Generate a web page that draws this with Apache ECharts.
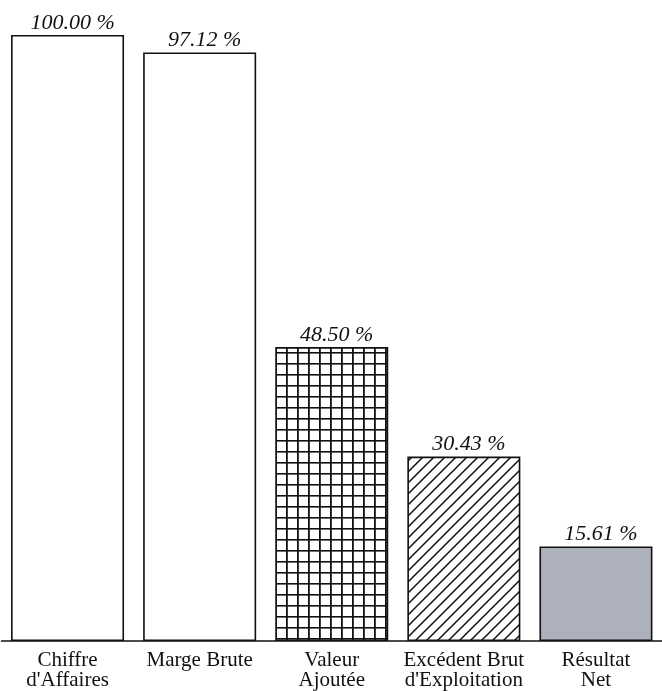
<!DOCTYPE html>
<html>
<head>
<meta charset="utf-8">
<script src="https://cdn.jsdelivr.net/npm/echarts@6/dist/echarts.min.js"></script>
<style>html,body{margin:0;padding:0;background:#fff}#c{width:662px;height:691px}</style>
</head>
<body>
<div id="c"></div>
<script>
var categories = ["Chiffre\nd'Affaires", "Marge Brute", "Valeur\nAjoutée", "Excédent Brut\nd'Exploitation", "Résultat\nNet"];
var values = [100.00, 97.12, 48.50, 30.43, 15.61];
var valueLabels = ["100.00 %", "97.12 %", "48.50 %", "30.43 %", "15.61 %"];

function gridPattern() {
  var c = document.createElement('canvas'); c.width = 11; c.height = 11;
  var g = c.getContext('2d');
  g.fillStyle = '#fff'; g.fillRect(0, 0, 11, 11);
  g.fillStyle = '#111';
  g.fillRect(0, 0, 1.8, 11);
  g.fillRect(0, 0, 11, 1.6);
  return c;
}
function hatchPattern() {
  var s = 11;
  var c = document.createElement('canvas'); c.width = s; c.height = s;
  var g = c.getContext('2d');
  g.fillStyle = '#fff'; g.fillRect(0, 0, s, s);
  g.strokeStyle = '#111'; g.lineWidth = 1.5;
  g.beginPath();
  g.moveTo(-1, s + 1); g.lineTo(s + 1, -1);
  g.moveTo(-1, 1); g.lineTo(1, -1);
  g.moveTo(s - 1, s + 1); g.lineTo(s + 1, s - 1);
  g.stroke();
  return c;
}
var fills = ['#ffffff', '#ffffff', {image: gridPattern(), repeat: 'repeat'}, {image: hatchPattern(), repeat: 'repeat'}, '#adb1bc'];

var chart = echarts.init(document.getElementById('c'));
chart.setOption({
  backgroundColor: '#fff',
  animation: false,
  grid: {left: 1.5, right: -4, top: 35, bottom: 50, containLabel: false},
  xAxis: {
    type: 'category', data: categories,
    axisLine: {lineStyle: {color: '#111', width: 1.6}},
    axisTick: {show: false},
    axisLabel: {color: '#111', fontFamily: 'Liberation Serif', fontSize: 21, lineHeight: 20, margin: 9, interval: 0}
  },
  yAxis: {type: 'value', min: 0, max: 100, show: false, splitLine: {show: false}},
  series: [{
    type: 'bar', barWidth: 113,
    data: values.map(function (v, i) {
      return {value: v, itemStyle: {color: fills[i]}};
    }),
    itemStyle: {borderColor: '#111', borderWidth: 1.6},
    label: {
      show: true, position: 'top', distance: 1, offset: [5, 0],
      fontFamily: 'Liberation Serif', fontStyle: 'italic', fontSize: 22, color: '#111',
      formatter: function (p) { return valueLabels[p.dataIndex]; }
    }
  }]
});
</script>
</body>
</html>
